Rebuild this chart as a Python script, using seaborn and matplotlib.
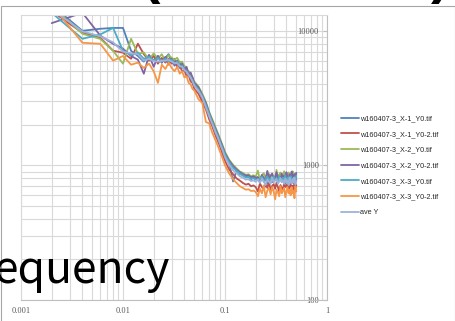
import matplotlib
matplotlib.use('Agg')
import matplotlib.pyplot as plt
import matplotlib.patches as mpatches
from matplotlib.lines import Line2D
from matplotlib.ticker import LogLocator, NullFormatter
import numpy as np
import pandas as pd
import seaborn as sns

# frequency bins
freq = [0.002, 0.004, 0.006, 0.008, 0.010, 0.012, 0.014, 0.016, 0.018, 0.020,
        0.022, 0.024, 0.026, 0.028, 0.030, 0.032, 0.034, 0.036, 0.038, 0.040,
        0.042, 0.044, 0.046, 0.048, 0.050,
        0.055, 0.060, 0.065, 0.070, 0.075, 0.080, 0.085, 0.090, 0.095, 0.100,
        0.11, 0.12, 0.13, 0.14, 0.15, 0.16, 0.17, 0.18, 0.19, 0.20,
        0.21, 0.22, 0.23, 0.24, 0.25, 0.26, 0.27, 0.28, 0.29, 0.30,
        0.31, 0.32, 0.33, 0.34, 0.35, 0.36, 0.37, 0.38, 0.39, 0.40,
        0.41, 0.42, 0.43, 0.44, 0.45, 0.46, 0.47, 0.48, 0.49, 0.50]

x1_y0 = [15500, 10000, 10350, 10500, 10500, 7100, 6500, 5900, 6600, 6000,
         6500, 5800, 6300, 6700, 5900, 6200, 5600, 5900, 5300, 5500,
         4900, 5000, 4400, 4500, 3900,
         3700, 3150, 2850, 2300, 2100, 1780, 1650, 1400, 1330, 1150,
         1040, 760, 920, 860, 850, 820, 830, 790, 810, 790,
         820, 750, 840, 770, 810, 730, 860, 785, 750, 830,
         775, 850, 740, 795, 820, 765, 840, 785, 730, 820,
         795, 750, 850, 775, 810, 830, 750, 795, 840, 775]

x1_y0_2 = [14000, 9670, 8870, 7110, 6870, 6200, 8020, 6700, 6000, 6500,
           5700, 6300, 5800, 6200, 5700, 5900, 5400, 5500, 5000, 5100,
           4600, 4700, 4200, 4100, 3700,
           3400, 2950, 2600, 2200, 1950, 1700, 1520, 1360, 1200, 1080,
           930, 860, 800, 770, 740, 720, 730, 700, 710, 690,
           640, 735, 690, 660, 725, 680, 755, 650, 705, 725,
           670, 745, 690, 640, 715, 680, 660, 735, 690, 705,
           725, 650, 690, 735, 680, 705, 660, 745, 680, 715]

x2_y0 = [15500, 9500, 8700, 7100, 5700, 8720, 6750, 6900, 6100, 6800,
         6200, 6700, 6000, 6600, 6300, 6100, 6300, 5800, 5900, 5400,
         5300, 4900, 4800, 4400, 4200,
         3850, 3400, 2950, 2500, 2200, 1950, 1740, 1560, 1400, 1260,
         1100, 1010, 950, 900, 880, 850, 860, 830, 845, 825,
         915, 780, 845, 875, 800, 895, 830, 770, 865, 820,
         790, 925, 810, 855, 885, 790, 830, 905, 810, 845,
         790, 885, 810, 855, 770, 905, 820, 790, 875, 810]

x2_y0_2 = [11400, 13600, 9190, 8000, 7360, 6500, 6100, 4800, 6600, 5400,
           6500, 5800, 6400, 5600, 6200, 5500, 6000, 5300, 5700, 5100,
           5400, 4700, 4900, 4500, 4100,
           3800, 3300, 2900, 2450, 2150, 1900, 1700, 1520, 1370, 1230,
           1080, 990, 930, 890, 860, 840, 845, 815, 830, 810,
           815, 755, 850, 805, 775, 910, 795, 840, 870, 775,
           815, 890, 795, 830, 775, 870, 795, 840, 755, 890,
           805, 775, 860, 795, 900, 765, 830, 860, 785, 880]

x3_y0 = [13600, 8720, 9400, 10500, 7100, 6600, 6900, 6200, 6400, 6000,
         6300, 5900, 6200, 5900, 6100, 5700, 5900, 5500, 5500, 5100,
         5000, 4700, 4500, 4200, 4000,
         3650, 3250, 2800, 2400, 2100, 1850, 1660, 1480, 1330, 1200,
         1050, 960, 910, 870, 840, 815, 820, 795, 805, 785,
         775, 800, 820, 755, 790, 830, 775, 800, 755, 820,
         775, 810, 745, 830, 790, 755, 810, 775, 840, 745,
         800, 820, 765, 830, 790, 745, 810, 790, 755, 840]

x3_y0_2 = [15500, 8150, 8000, 6000, 6500, 5600, 5800, 5300, 5700, 5000,
           4100, 5600, 5200, 5800, 5300, 5000, 5400, 4800, 5000, 4500,
           4600, 4100, 4000, 3700, 3600,
           3100, 2900, 2100, 2050, 1750, 1560, 1400, 1250, 1120, 1000,
           870, 790, 740, 700, 680, 660, 665, 645, 650, 635,
           590, 670, 620, 710, 580, 650, 680, 610, 690, 640,
           560, 660, 630, 590, 700, 620, 650, 680, 580, 640,
           690, 620, 660, 600, 690, 620, 650, 570, 700, 640]

ave_y = [14500, 9900, 9100, 8200, 7000, 6800, 6700, 6000, 6200, 5950,
         5900, 6000, 6000, 6100, 5900, 5750, 5750, 5450, 5400, 5100,
         4950, 4700, 4500, 4250, 3900,
         3580, 3200, 2700, 2320, 2040, 1790, 1610, 1430, 1290, 1150,
         1010, 920, 875, 830, 810, 785, 790, 765, 775, 755,
         790, 740, 800, 760, 715, 785, 755, 730, 815, 750,
         775, 790, 730, 760, 805, 750, 775, 730, 800, 745,
         775, 715, 810, 755, 730, 790, 750, 815, 720, 765]

series_names = ['w160407-3_X-1_Y0.tif', 'w160407-3_X-1_Y0-2.tif',
                'w160407-3_X-2_Y0.tif', 'w160407-3_X-2_Y0-2.tif',
                'w160407-3_X-3_Y0.tif', 'w160407-3_X-3_Y0-2.tif', 'ave Y']
series_values = [x1_y0, x1_y0_2, x2_y0, x2_y0_2, x3_y0, x3_y0_2, ave_y]
colors = ['#4F81BD', '#C0504D', '#9BBB59', '#8064A2', '#4BACC6', '#F79646', '#9DB3DB']

xticks = [0.001, 0.01, 0.1, 1]
xticklabels = ['0.001', '0.01', '0.1', '1']
yticks = [100, 1000, 10000]
yticklabels = ['100', '1000', '10000']

df = pd.concat([pd.DataFrame({'freq': freq, 'psd': v, 'series': n})
                for n, v in zip(series_names, series_values)], ignore_index=True)

sns.set_style('white')
plt.rcParams['font.family'] = ['Liberation Sans', 'DejaVu Sans']

W, H = 456, 321
fig = plt.figure(figsize=(W / 100, H / 100), dpi=100)
ax = fig.add_axes([21 / W, 21 / H, 306 / W, 285 / H])

sns.lineplot(data=df, x='freq', y='psd', hue='series', hue_order=series_names,
             palette=colors, estimator=None, sort=False, lw=1.3, legend=False, ax=ax)

ax.set_xscale('log')
ax.set_yscale('log')
ax.set_xlim(0.001, 1)
ax.set_ylim(100, 13100)

ax.set_xticks(xticks)
ax.set_xticklabels(xticklabels)
ax.set_yticks(yticks)
ax.set_yticklabels(yticklabels)
ax.xaxis.set_minor_locator(LogLocator(base=10, subs=np.arange(2, 10)))
ax.yaxis.set_minor_locator(LogLocator(base=10, subs=np.arange(2, 10)))
ax.xaxis.set_minor_formatter(NullFormatter())
ax.yaxis.set_minor_formatter(NullFormatter())

ax.grid(which='both', color='#D9D9D9', lw=0.8)
ax.set_axisbelow(True)
ax.set_xlabel('')
ax.set_ylabel('')

ax.yaxis.tick_right()
ax.tick_params(axis='x', which='major', length=0, pad=5, labelsize=6,
               labelcolor='#595959')
ax.tick_params(axis='y', which='major', direction='in', length=3, pad=-5.8,
               labelsize=6, labelcolor='#595959', color='#BFBFBF')
ax.tick_params(which='minor', length=0)
for lab in ax.get_xticklabels() + ax.get_yticklabels():
    lab.set_family(['Liberation Serif', 'DejaVu Serif'])
for lab in ax.get_yticklabels():
    lab.set_horizontalalignment('right')

for side in ['left', 'top']:
    ax.spines[side].set_color('#D9D9D9')
    ax.spines[side].set_linewidth(0.8)
for side in ['right', 'bottom']:
    ax.spines[side].set_color('#BFBFBF')
    ax.spines[side].set_linewidth(0.8)

handles = [Line2D([], [], color=c, lw=1.3) for c in colors]
fig.legend(handles, series_names, loc='upper left',
           bbox_to_anchor=(341 / W, 1 - 115 / H), frameon=False, fontsize=5.2,
           handlelength=2.5, handletextpad=0.15, labelspacing=1.2,
           borderpad=0, borderaxespad=0)

# chart area border
fig.patches.append(mpatches.Rectangle((1.5 / W, -0.1), 453.5 / W, 1.1 - 5.5 / H,
                                      transform=fig.transFigure, fill=False,
                                      ec='#A6A6A6', lw=0.8))

# slide text overlapping the chart
fig.text(-6 / W, 1 - 283 / H, 'equency', fontsize=32, va='baseline', ha='left',
         color='black', family=['Noto Sans CJK JP', 'Liberation Sans'])
fig.text(141 / W, 1 + 8 / H, '(', fontsize=40, va='baseline', ha='left',
         color='black', fontweight='bold')
fig.text(431 / W, 1 + 8 / H, ')', fontsize=40, va='baseline', ha='left',
         color='black', fontweight='bold')

fig.savefig('out.png', dpi=100)
